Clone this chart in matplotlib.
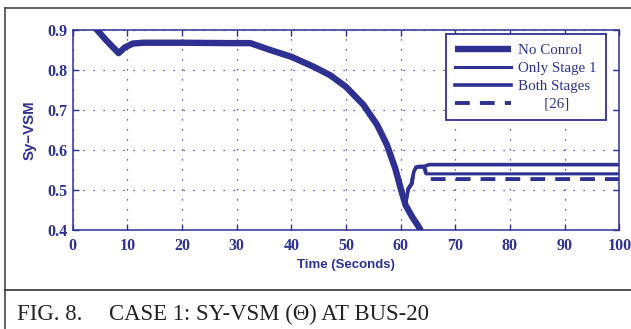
import matplotlib
matplotlib.use("Agg")
import matplotlib.pyplot as plt
from matplotlib.lines import Line2D

# ---- data ----
t_noctrl = [4.0, 4.4, 6.0, 8.4, 9.5, 11.0, 13.0, 20.0, 28.8, 32.5, 36.1, 40.0, 44.1, 47.1, 50.0,
            53.2, 55.7, 57.5, 59.0, 60.0, 60.9, 62.1, 63.3, 63.7]
v_noctrl = [0.906, 0.900, 0.875, 0.841, 0.855, 0.865, 0.867, 0.867, 0.866, 0.866, 0.849, 0.832,
            0.807, 0.786, 0.757, 0.712, 0.662, 0.612, 0.554, 0.504, 0.462, 0.433, 0.408, 0.398]

# shared trajectory of the controlled cases up to the recovery point
t_common = [4.0, 4.4, 6.0, 8.4, 9.5, 11.0, 13.0, 20.0, 28.8, 32.5, 36.1, 40.0, 44.1, 47.1, 50.0,
            53.2, 55.7, 57.5, 59.0, 60.0, 60.9, 61.4, 62.0, 62.4, 62.8, 63.3, 64.2]
v_common = [0.906, 0.900, 0.875, 0.841, 0.855, 0.865, 0.867, 0.867, 0.866, 0.866, 0.849, 0.832,
            0.807, 0.786, 0.757, 0.712, 0.662, 0.612, 0.554, 0.504, 0.465, 0.503, 0.515, 0.545,
            0.556, 0.558, 0.558]

t_both_tail = [65.2, 100.0]
v_both_tail = [0.563, 0.563]
t_stage1_tail = [64.4, 64.6, 100.0]
v_stage1_tail = [0.552, 0.540, 0.540]
t_ref26_tail = [64.5, 64.8, 100.0]
v_ref26_tail = [0.550, 0.527, 0.527]

labels = ["No Conrol", "Only Stage 1", "Both Stages", "[26]"]
xticks = [0, 10, 20, 30, 40, 50, 60, 70, 80, 90, 100]
yticks = [0.4, 0.5, 0.6, 0.7, 0.8, 0.9]

# ---- styling ----
C = "#2e3192"
W, H = 631, 329
SANS = "Liberation Sans"

fig = plt.figure(figsize=(W / 100, H / 100), dpi=100)
fig.patch.set_facecolor("white")

L, R, T, B = 72.7, 619.3, 29.5, 230.0
ax = fig.add_axes([L / W, 1 - B / H, (R - L) / W, (B - T) / H])

ax.plot(t_common + t_both_tail, v_common + v_both_tail, color=C, lw=2.6,
        solid_joinstyle="round", label=labels[2], zorder=3)
ax.plot(t_common + t_stage1_tail, v_common + v_stage1_tail, color=C, lw=2.2,
        solid_joinstyle="round", label=labels[1], zorder=3)
ax.plot(t_common + t_ref26_tail, v_common + v_ref26_tail, color=C, lw=2.8,
        dashes=(3.8, 2.6), label=labels[3], zorder=3)
ax.plot(t_noctrl, v_noctrl, color=C, lw=4.6, solid_joinstyle="round",
        solid_capstyle="butt", label=labels[0], zorder=4)

ax.set_xlim(0, 100)
ax.set_ylim(0.4, 0.9)
ax.set_xticks(xticks)
ax.set_yticks(yticks)
ax.set_xticklabels([str(v) for v in xticks])
ax.set_yticklabels([f"{v:.1f}" for v in yticks])

for s in ax.spines.values():
    s.set_color(C)
    s.set_linewidth(1.1)
ax.tick_params(direction="in", length=4, width=1, colors=C, top=True, right=True)
ax.tick_params(axis="x", pad=6)
ax.tick_params(axis="y", pad=4)
for lab in ax.get_xticklabels() + ax.get_yticklabels():
    lab.set_fontfamily("Liberation Serif")
    lab.set_fontweight("bold")
    lab.set_fontsize(11.5)
    lab.set_color(C)
ax.grid(True, color=C, linestyle=(0, (1, 7)), linewidth=0.9)
ax.set_axisbelow(True)

# legend
h = {l.get_label(): l for l in ax.get_lines()}
handles = [h[labels[0]], h[labels[1]], h[labels[2]], h[labels[3]]]
leg_labels = [labels[0], labels[1], labels[2], "       " + labels[3]]
leg = ax.legend(handles, leg_labels, loc="upper right",
                bbox_to_anchor=(605.5 / W, 1 - 34 / H), bbox_transform=fig.transFigure,
                frameon=True, fancybox=False, framealpha=1, edgecolor=C,
                prop={"family": "Liberation Serif", "size": 10.8},
                handlelength=3.7, handletextpad=0.45, labelspacing=0.3,
                borderpad=0.62, borderaxespad=0)
leg.get_frame().set_linewidth(1.3)
for txt in leg.get_texts():
    txt.set_color(C)

# axis labels
fig.text(30 / W, 1 - 130 / H, "Sy\u2212VSM", rotation=90, ha="center", va="center",
         color=C, fontsize=10.8, fontweight="bold", family=SANS)
fig.text(346 / W, 1 - 265 / H, "Time (Seconds)", ha="center", va="center",
         color=C, fontsize=9.5, fontweight="bold", family=SANS)

# figure frame and caption
gray = "#555555"
fig.add_artist(Line2D([5 / W, 5 / W], [0, 1 - 8 / H], transform=fig.transFigure, color=gray, lw=1.3))
fig.add_artist(Line2D([5 / W, 1], [1 - 8 / H, 1 - 8 / H], transform=fig.transFigure, color=gray, lw=1.3))
fig.add_artist(Line2D([5 / W, 1], [1 - 290 / H, 1 - 290 / H], transform=fig.transFigure, color="#333333", lw=1.2))
fig.text(17 / W, 1 - 320.3 / H, "FIG. 8.", ha="left", va="baseline",
         color="#222222", fontsize=16.4, family="Liberation Serif")
fig.text(109 / W, 1 - 320.3 / H, "CASE 1: SY-VSM (\u0398) AT BUS-20", ha="left", va="baseline",
         color="#222222", fontsize=16.4, family="Liberation Serif")

fig.savefig("out.png", dpi=100)
